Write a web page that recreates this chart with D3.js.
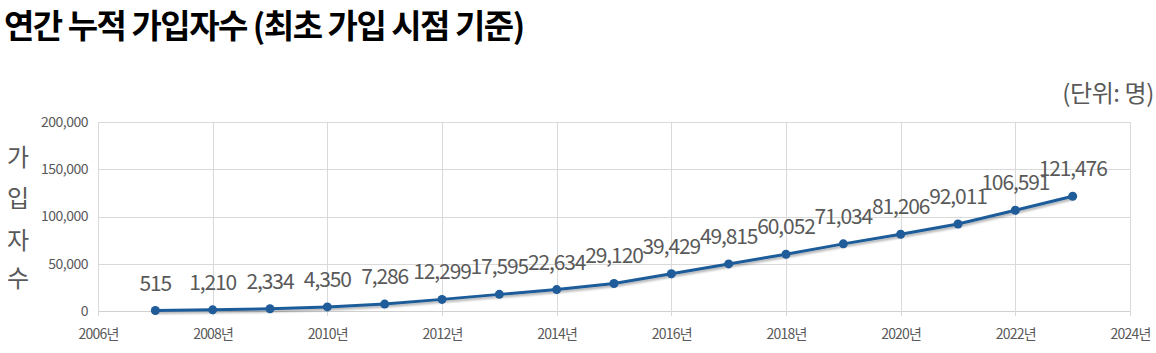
<!DOCTYPE html>
<html><head><meta charset="utf-8">
<script src="https://cdn.jsdelivr.net/npm/d3@7"></script>
<style>body{margin:0;background:#fff;}svg{display:block;}</style>
</head><body>
<svg id="c" width="1156" height="353"></svg>
<script>
const years = [2007,2008,2009,2010,2011,2012,2013,2014,2015,2016,2017,2018,2019,2020,2021,2022,2023];
const values = [515,1210,2334,4350,7286,12299,17595,22634,29120,39429,49815,60052,71034,81206,92011,106591,121476];
const xTicks = [2006,2008,2010,2012,2014,2016,2018,2020,2022,2024];
const yTicks = [0,50000,100000,150000,200000];
const title = "연간 누적 가입자수 (최초 가입 시점 기준)";
const unit = "(단위: 명)";
const yLabel = ["가","입","자","수"];

const svg = d3.select("#c");
const font = "'Noto Sans CJK KR', 'Noto Sans', sans-serif";
const x = d3.scaleLinear().domain([2006,2024]).range([98,1130]);
const y = d3.scaleLinear().domain([0,200000]).range([311,122]);

const defs = svg.append("defs");
const f = defs.append("filter").attr("id","sh").attr("x","-5%").attr("y","-50%").attr("width","110%").attr("height","200%");
f.append("feDropShadow").attr("dx",1).attr("dy",2).attr("stdDeviation",1.2).attr("flood-color","#000").attr("flood-opacity",0.3);

// gridlines
svg.append("g").selectAll("line").data(yTicks).join("line")
  .attr("x1",x(2006)).attr("x2",x(2024)).attr("y1",d=>Math.round(y(d))+0.5).attr("y2",d=>Math.round(y(d))+0.5)
  .attr("stroke",d=>d===0?"#d0d0d0":"#d9d9d9").attr("stroke-width",1);
svg.append("g").selectAll("line").data(xTicks).join("line")
  .attr("x1",d=>Math.round(x(d))+0.5).attr("x2",d=>Math.round(x(d))+0.5)
  .attr("y1",y(200000)).attr("y2",y(0)+5)
  .attr("stroke","#d9d9d9").attr("stroke-width",1);

// axes labels
const yAxis = d3.axisLeft(y).tickValues(yTicks).tickFormat(d3.format(",")).tickSize(0).tickPadding(10);
const gy = svg.append("g").attr("transform",`translate(${x(2006)},0)`).call(yAxis);
gy.select(".domain").remove();
gy.selectAll("text").attr("font-family",font).attr("font-size",14).attr("fill","#595959").attr("letter-spacing","-0.5px");

const xAxis = d3.axisBottom(x).tickValues(xTicks).tickFormat(d=>d+"년").tickSize(0).tickPadding(18);
const gx = svg.append("g").attr("transform",`translate(0,${y(0)})`).call(xAxis);
gx.select(".domain").remove();
gx.selectAll("text").attr("font-family",font).attr("font-size",14).attr("fill","#595959").attr("letter-spacing","-0.8px");

// line
const line = d3.line().x((d,i)=>x(years[i])).y(d=>y(d));
svg.append("path").datum(values).attr("d",line).attr("fill","none")
  .attr("stroke","#1f5c99").attr("stroke-width",3).attr("filter","url(#sh)");
svg.append("g").selectAll("circle").data(values).join("circle")
  .attr("cx",(d,i)=>x(years[i])).attr("cy",d=>y(d)).attr("r",4.5).attr("fill","#1f5c99");

// data labels
svg.append("g").selectAll("text").data(values).join("text")
  .attr("x",(d,i)=>x(years[i])).attr("y",d=>y(d)-20)
  .attr("text-anchor","middle").attr("font-family",font).attr("font-size",21)
  .attr("fill","#595959").attr("letter-spacing","-1.1px")
  .text(d=>d3.format(",")(d));

// title
svg.append("text").attr("x",4).attr("y",38).attr("font-family",font).attr("font-weight",700)
  .attr("font-size",33).attr("fill","#000").attr("letter-spacing","-1.5px").text(title);

svg.append("text").attr("x",1154).attr("y",102).attr("text-anchor","end").attr("font-family",font)
  .attr("font-size",24).attr("fill","#595959").attr("letter-spacing","-0.4px").text(unit);

svg.append("g").selectAll("text").data(yLabel).join("text")
  .attr("x",18).attr("y",(d,i)=>[166,207,249,287][i]).attr("text-anchor","middle")
  .attr("font-family",font).attr("font-size",24).attr("fill","#595959").text(d=>d);
</script>
</body></html>
